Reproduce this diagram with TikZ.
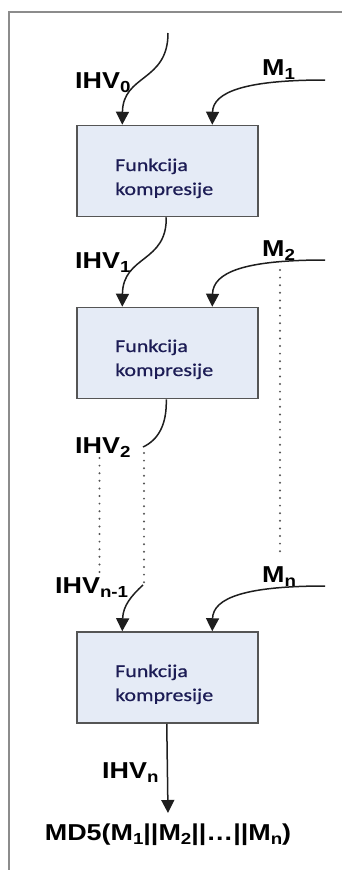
\documentclass[tikz,border=0pt]{standalone}
\usepackage{fontspec}
\usetikzlibrary{arrows.meta}
\newfontfamily\labfont[FakeStretch=1.17]{Liberation Sans}
\newfontfamily\boxfont[FakeStretch=1.22,FakeBold=0.6]{Carlito}
\definecolor{boxfill}{RGB}{229,235,246}
\definecolor{boxedge}{RGB}{85,85,85}
\definecolor{boxtext}{RGB}{28,28,85}
\definecolor{framegray}{RGB}{140,140,140}
\definecolor{linecol}{RGB}{30,30,30}
\newcommand\lsub[1]{\raisebox{-4.5pt}{\fontsize{16}{16}\selectfont #1}}
\begin{document}
\begin{tikzpicture}[x=1pt,y=-1pt,
  lab/.style={anchor=base west, inner sep=0pt, font=\labfont\bfseries\fontsize{23}{23}\selectfont},
  cbox/.style={draw=boxedge, fill=boxfill, line width=1.5pt, minimum width=181pt, minimum height=91pt, inner sep=0pt},
  btext/.style={anchor=base west, inner sep=0pt, text=boxtext, font=\boxfont\fontsize{18}{18}\selectfont},
  flow/.style={draw=linecol, line width=1.5pt, -{Triangle[length=13pt,width=13pt]}},
  flowplain/.style={draw=linecol, line width=1.5pt},
  dotline/.style={draw=boxedge, line width=2.2pt, line cap=round, dash pattern=on 0pt off 7.6pt},
  frame/.style={draw=framegray, line width=2pt}
]
\useasboundingbox (0,0) rectangle (342,870);
% frame
\coordinate (fbl) at (8.5,870);
\coordinate (ftl) at (8.5,12);
\coordinate (ftr) at (342,12);
\draw[frame] (fbl) -- (ftl) -- (ftr);

% boxes
\node[cbox] (b1) at (167.5,171) {};
\node[cbox] (b2) at (167.5,353) {};
\node[cbox] (b3) at (167.5,677.5) {};
\node[btext] (t1a) at (115,171) {Funkcija};
\node[btext] (t1b) at (115,195) {kompresije};
\node[btext] (t2a) at (115,352) {Funkcija};
\node[btext] (t2b) at (115,376) {kompresije};
\node[btext] (t3a) at (115,677) {Funkcija};
\node[btext] (t3b) at (115,701) {kompresije};

% labels
\node[lab] (l0) at (75,88) {IHV\lsub{0}};
\node[lab] (m1) at (262,75) {M\lsub{1}};
\node[lab] (l1) at (75,268) {IHV\lsub{1}};
\node[lab] (m2) at (262,256) {M\lsub{2}};
\node[lab] (l2) at (75,453) {IHV\lsub{2}};
\node[lab] (mn) at (262,582) {M\lsub{n}};
\node[lab] (lnm) at (55,593) {IHV\lsub{n-1}};
\node[lab] (ln) at (102,778) {IHV\lsub{n}};
\node[lab, anchor=base] (md5) at (168,840) {MD5(M\lsub{1}||M\lsub{2}||…||M\lsub{n})};

% start / end coordinates
\coordinate (s0) at (168,33);
\coordinate (sm1) at (325,80);
\coordinate (sm2) at (325,260);
\coordinate (smn) at (325,586);
\coordinate (e2) at (143,447);
\coordinate (snm) at (143,585);
\coordinate (out) at (168,813);

% IHV0 and M1
\draw[flow] (s0) .. controls (168,82) and (123,74) .. ([xshift=46pt]b1.north west);
\draw[flow] (sm1) .. controls (245,80) and (213,92) .. ([xshift=136pt]b1.north west);
% IHV1 and M2
\draw[flow] ([xshift=90pt]b1.south west) .. controls (167,263) and (123,255) .. ([xshift=46pt]b2.north west);
\draw[flow] (sm2) .. controls (245,260) and (213,272) .. ([xshift=136pt]b2.north west);
% IHV2 partial
\draw[flowplain] ([xshift=90pt]b2.south west) .. controls (167,425) and (158,440) .. (e2);
% dotted continuations
\coordinate (d1a) at (99.5,458);
\coordinate (d1b) at (99.5,572);
\coordinate (d2a) at (144,453);
\coordinate (d2b) at (144,583);
\coordinate (d3a) at (280,270);
\coordinate (d3b) at (280,553);
\draw[dotline] (d1a) -- (d1b);
\draw[dotline] (d2a) -- (d2b);
\draw[dotline] (d3a) -- (d3b);
% IHVn-1 and Mn
\draw[flow] (snm) .. controls (131,596) and (123,606) .. ([xshift=46pt]b3.north west);
\draw[flow] (smn) .. controls (245,586) and (213,598) .. ([xshift=136pt]b3.north west);
% output
\draw[flow] ([xshift=90.5pt]b3.south west) -- (out);
\end{tikzpicture}
\end{document}
